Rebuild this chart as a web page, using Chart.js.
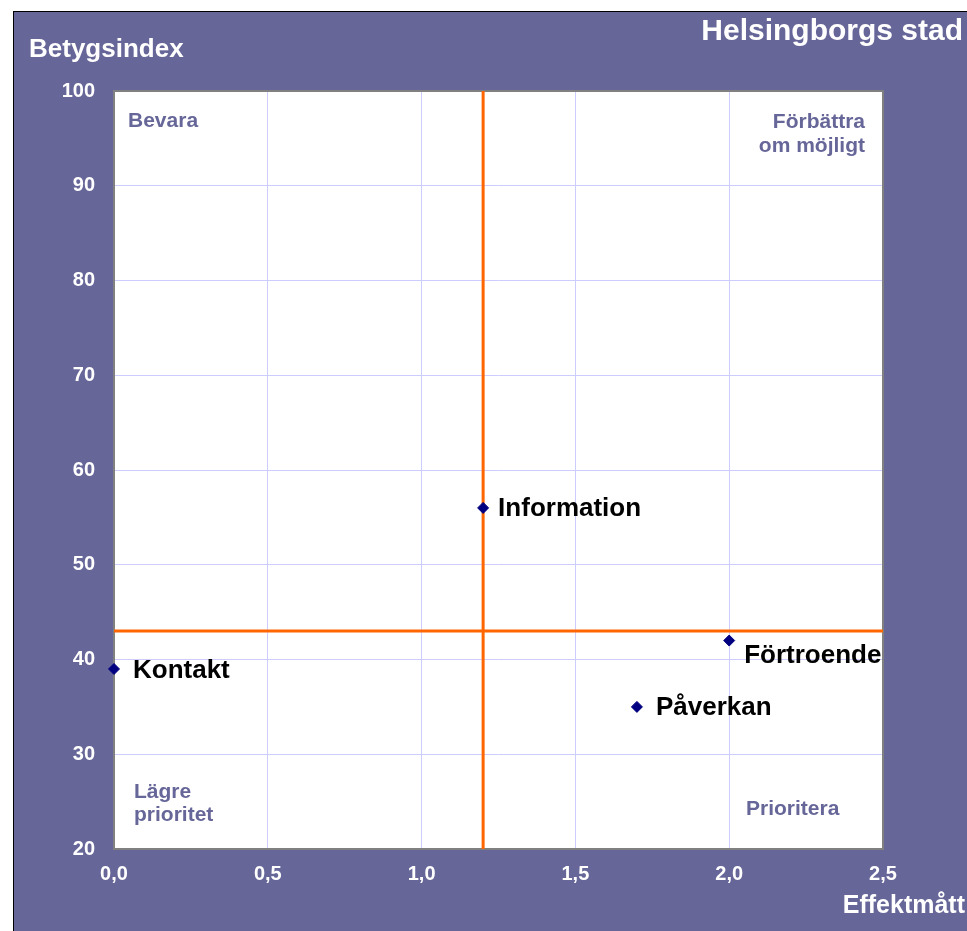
<!DOCTYPE html>
<html>
<head>
<meta charset="utf-8">
<script src="https://cdn.jsdelivr.net/npm/chart.js@4/dist/chart.umd.min.js"></script>
<style>
  body { margin: 0; background: #fff; }
  #wrap {
    position: absolute; left: 13px; top: 11px;
    width: 953px; height: 919px;
    background: #666699;
    border-left: 1px solid #000; border-top: 1px solid #000;
  }
</style>
</head>
<body>
<div id="wrap"><canvas id="myChart" width="953" height="919"></canvas></div>
<script>
// ######### data
// ###########################################

const namn = ['Information', 'Förtroende', 'Påverkan', 'Kontakt'];
const effektmatt = [1.2, 2.0, 1.7, 0.0];
const betygsindex = [56, 42, 35, 39];

// gränser för kvadranterna (orange linjer)
const gransX = 1.2;
const gransY = 43;

const xMin = 0, xMax = 2.5, xSteg = 0.5;
const yMin = 20, yMax = 100, ySteg = 10;

// etikettförskjutning i pixlar (bara stil)
const etikettOffset = [[15, 1], [15, 15], [19, 1], [19, 2]];

const FONT = '"Liberation Sans", Arial, sans-serif';
const LILA = '#666699';

// ######### plugins
// ###########################################

const bakgrund = {
    id: 'bakgrund',
    beforeDraw(chart) {
        const { ctx, chartArea: a } = chart;
        ctx.save();
        ctx.fillStyle = '#ffffff';
        ctx.fillRect(a.left, a.top, a.right - a.left, a.bottom - a.top);
        ctx.restore();
    },
    beforeDatasetsDraw(chart) {
        const { ctx, chartArea: a } = chart;
        ctx.save();
        ctx.strokeStyle = '#808080';
        ctx.lineWidth = 2;
        ctx.strokeRect(a.left, a.top, a.right - a.left, a.bottom - a.top);

        // kvadrant-texter
        ctx.fillStyle = LILA;
        ctx.font = 'bold 21px ' + FONT;
        ctx.textBaseline = 'middle';
        ctx.textAlign = 'left';
        ctx.fillText('Bevara', a.left + 14, a.top + 30);
        ctx.fillText('Lägre', a.left + 20, a.bottom - 57);
        ctx.fillText('prioritet', a.left + 20, a.bottom - 34);
        ctx.fillText('Prioritera', a.right - 137, a.bottom - 40);
        ctx.textAlign = 'right';
        ctx.fillText('Förbättra', a.right - 18, a.top + 31);
        ctx.fillText('om möjligt', a.right - 18, a.top + 55);
        ctx.restore();
    }
};

const etiketter = {
    id: 'etiketter',
    afterDatasetsDraw(chart) {
        const { ctx } = chart;
        const meta = chart.getDatasetMeta(0);
        ctx.save();
        ctx.fillStyle = '#000000';
        ctx.font = 'bold 26px ' + FONT;
        ctx.textBaseline = 'middle';
        ctx.textAlign = 'left';
        meta.data.forEach((p, i) => {
            const o = etikettOffset[i];
            ctx.fillText(namn[i], p.x + o[0], p.y + o[1]);
        });
        ctx.restore();
    },
    afterDraw(chart) {
        const { ctx } = chart;
        ctx.save();
        ctx.fillStyle = '#ffffff';
        ctx.textBaseline = 'middle';
        ctx.font = 'bold 30px ' + FONT;
        ctx.textAlign = 'right';
        ctx.fillText('Helsingborgs stad', 949, 20);
        ctx.font = 'bold 26px ' + FONT;
        ctx.textAlign = 'left';
        ctx.fillText('Betygsindex', 15, 38);
        ctx.font = 'bold 25px ' + FONT;
        ctx.textAlign = 'right';
        ctx.fillText('Effektmått', 951, 894);
        ctx.restore();
    }
};

// ######### diagram
// ###########################################

const myChart = document.getElementById('myChart');

if (myChart) {
    var ctx = myChart.getContext('2d');
    var chart = new Chart(ctx, {
        type: 'scatter',
        data: {
            datasets: [{
                label: 'Områden',
                data: effektmatt.map((x, i) => ({ x: x, y: betygsindex[i] })),
                pointStyle: 'rectRot',
                pointRadius: 5.5,
                pointBorderWidth: 1,
                backgroundColor: '#000080',
                borderColor: '#000080',
                clip: false,
                order: 0
            },
            {
                type: 'line',
                label: 'gräns x',
                data: [{ x: gransX, y: yMin }, { x: gransX, y: yMax }],
                borderColor: '#ff6600',
                borderWidth: 3,
                pointRadius: 0,
                order: 1
            },
            {
                type: 'line',
                label: 'gräns y',
                data: [{ x: xMin, y: gransY }, { x: xMax, y: gransY }],
                borderColor: '#ff6600',
                borderWidth: 3,
                pointRadius: 0,
                order: 1
            }]
        },
        options: {
            responsive: false,
            animation: false,
            layout: { padding: { top: 79, right: 84, left: 0, bottom: 0 } },
            plugins: {
                legend: { display: false },
                tooltip: { enabled: false }
            },
            scales: {
                x: {
                    type: 'linear',
                    min: xMin, max: xMax,
                    border: { display: false },
                    grid: { color: '#ccccff', lineWidth: 1, drawTicks: false },
                    ticks: {
                        stepSize: xSteg,
                        padding: 13,
                        color: '#ffffff',
                        font: { family: FONT, size: 20, weight: 'bold' },
                        callback: v => v.toFixed(1).replace('.', ',')
                    },
                    afterFit: s => { s.height = 82; }
                },
                y: {
                    min: yMin, max: yMax,
                    border: { display: false },
                    grid: { color: '#ccccff', lineWidth: 1, drawTicks: false },
                    ticks: {
                        stepSize: ySteg,
                        padding: 19,
                        color: '#ffffff',
                        font: { family: FONT, size: 20, weight: 'bold' }
                    },
                    afterFit: s => { s.width = 100; }
                }
            }
        },
        plugins: [bakgrund, etiketter]
    });
}
</script>
</body>
</html>
